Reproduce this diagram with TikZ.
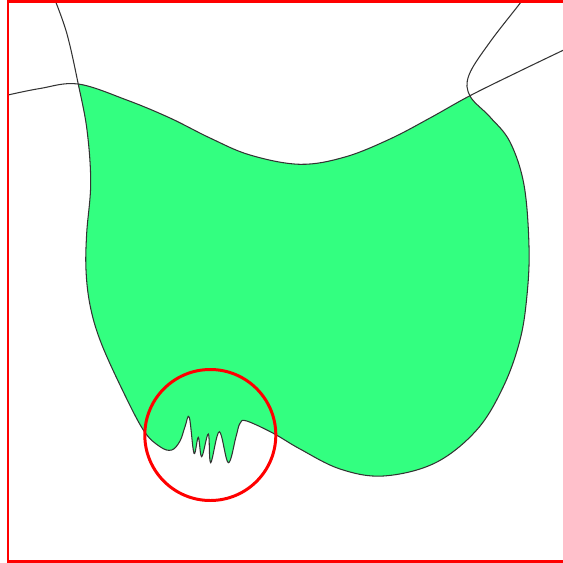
\documentclass[tikz,border=0pt]{standalone}
\usepackage{xcolor}
\usepackage{tikz}
\definecolor{zonegreen}{HTML}{33FF80}
\definecolor{framered}{HTML}{FF0000}
\definecolor{curvegray}{HTML}{333333}

\begin{document}
\begin{tikzpicture}[x=0.02cm,y=-0.02cm,
    rim/.style={curvegray,line width=0.6pt},
    redline/.style={framered,line width=1.7pt}]
  \useasboundingbox (0,0) rectangle (563,563);
  \clip (0,0) rectangle (563,563);
  \begin{scope}
    \clip plot[smooth,tension=0.6] coordinates {(8,95) (40,88.5) (78,84) (126.7,100) (170,118) (210,138) (250,155) (300,164.3) (345,157) (390,139) (430,118) (470,95.7) (520,71) (570,47)} -- (570,570) -- (8,570) -- cycle;
    \fill[zonegreen] plot[smooth,tension=0.6] coordinates {(53,-5) (66.7,33) (78.3,84.3) (87,130) (90.7,183) (86.7,233) (86,270) (90,305) (100,340) (120,385) (143.3,430) (160,446.7) (171.7,450) (180,441) (185,426.7) (189.3,417.3) (194,453.3) (198.3,437.3) (201.7,456.7) (208.3,434) (210.7,462.7) (219.3,431.7) (228.3,462.7) (236,436.7) (240,423.3) (246.7,421) (273.3,433.3) (300,449) (340,469) (383.3,476) (435,463) (476.7,430) (503.3,386.7) (520,340) (527,295) (529,246.7) (524,185) (510,142) (490,117) (470,96) (469,75) (490,42) (521,2) (525,-5)} -- cycle;
  \end{scope}
  \draw[rim] plot[smooth,tension=0.6] coordinates {(8,95) (40,88.5) (78,84) (126.7,100) (170,118) (210,138) (250,155) (300,164.3) (345,157) (390,139) (430,118) (470,95.7) (520,71) (570,47)};
  \draw[rim] plot[smooth,tension=0.6] coordinates {(53,-5) (66.7,33) (78.3,84.3) (87,130) (90.7,183) (86.7,233) (86,270) (90,305) (100,340) (120,385) (143.3,430) (160,446.7) (171.7,450) (180,441) (185,426.7) (189.3,417.3) (194,453.3) (198.3,437.3) (201.7,456.7) (208.3,434) (210.7,462.7) (219.3,431.7) (228.3,462.7) (236,436.7) (240,423.3) (246.7,421) (273.3,433.3) (300,449) (340,469) (383.3,476) (435,463) (476.7,430) (503.3,386.7) (520,340) (527,295) (529,246.7) (524,185) (510,142) (490,117) (470,96) (469,75) (490,42) (521,2) (525,-5)};
  \draw[redline] (570,1.5) -- (8,1.5) -- (8,561) -- (570,561);
  \draw[redline] (210.3,435) circle[radius=65.5];
\end{tikzpicture}
\end{document}
